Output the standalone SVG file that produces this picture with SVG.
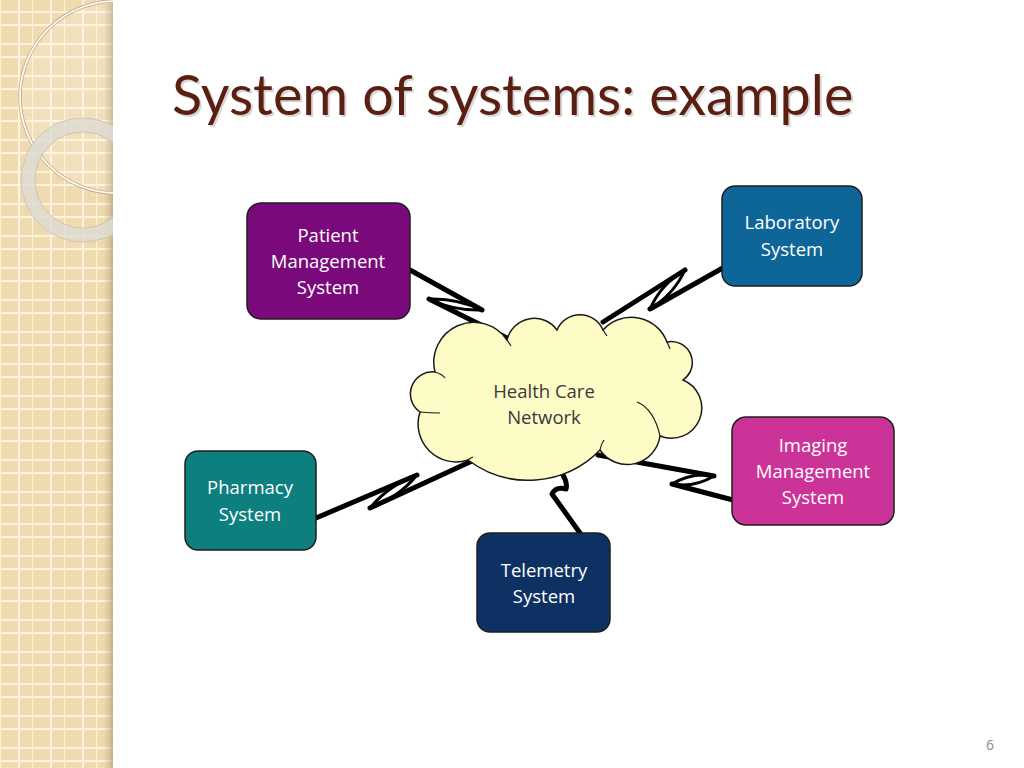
<svg xmlns="http://www.w3.org/2000/svg" width="1024" height="768" viewBox="0 0 1024 768">
<defs>
<style>
.node rect{stroke:#1e1e1e;stroke-width:1.5}
.lbl{font-family:"Open Sans","Noto Sans",sans-serif;font-size:18.5px;fill:#ffffff;text-anchor:middle}
.cl{font-family:"Open Sans","Noto Sans",sans-serif;font-size:18.5px;fill:#3a3a3a;text-anchor:middle}
.wire{fill:none;stroke:#000;stroke-width:5;stroke-linecap:round;stroke-linejoin:round}
.lens{fill:none;stroke:#000;stroke-width:3;stroke-linecap:round;stroke-linejoin:round}
.title{font-family:"Lato","Open Sans",sans-serif;font-size:55.7px}
</style>
<pattern id="grid" width="32" height="32" patternUnits="userSpaceOnUse">
<rect width="32" height="32" fill="#f1dcb2"/>
<path d="M6 0V32M26 0V32M0 6H32M0 19H32" stroke="#ecd6ab" stroke-width="1"/>
<path d="M0 0V32M19 0V32M0 12H32M0 25H32" stroke="#fcf3dc" stroke-width="2"/>
</pattern>
<linearGradient id="edge" x1="0" x2="1" y1="0" y2="0">
<stop offset="0" stop-color="#b8a27a" stop-opacity="0"/>
<stop offset="1" stop-color="#9c8866" stop-opacity="0.55"/>
</linearGradient>
<clipPath id="strip"><rect x="0" y="0" width="113" height="768"/></clipPath>
</defs>
<rect width="1024" height="768" fill="#ffffff"/>
<g id="sidebar" clip-path="url(#strip)">
<rect x="0" y="0" width="113" height="768" fill="url(#grid)"/>
<rect x="103" y="0" width="10" height="768" fill="url(#edge)"/>
<circle cx="116" cy="97" r="96" fill="#ffffff" fill-opacity="0.15"/>
<circle cx="116" cy="97" r="96" fill="none" stroke="#bfae8c" stroke-width="3.5"/>
<circle cx="116" cy="97" r="96" fill="none" stroke="#fffaf0" stroke-width="1.8"/>
<circle cx="83" cy="180" r="55" fill="none" stroke="#dedbd2" stroke-width="14" stroke-opacity="0.85"/>
<circle cx="83" cy="180" r="62" fill="none" stroke="#c8bfae" stroke-width="0.8"/>
<circle cx="83" cy="180" r="48" fill="none" stroke="#c8bfae" stroke-width="0.8"/>
</g>
<g id="title">
<text x="174" y="117" class="title" fill="#000" fill-opacity="0.16">System of systems: example</text>
<text x="172" y="115" class="title" fill="#5a1f10">System of systems: example</text>
</g>
<g id="connectors">
<path class="wire" d="M410 270L482 310M429 299L507 338"/>
<path class="lens" d="M482 310Q457 298 429 299Q454 311 482 310Z"/>
<path class="wire" d="M728 265L650 309M685 270L603 322"/>
<path class="lens" d="M650 309Q674 294 685 270Q661 284 650 309Z"/>
<path class="wire" d="M316 518L417 475M370 508L472 461"/>
<path class="lens" d="M417 475Q398 498 370 508Q389 485 417 475Z"/>
<path class="wire" d="M733 500L672 484M714 476L598 455"/>
<path class="lens" d="M672 484Q694 488 714 476Q692 472 672 484Z"/>
<path class="wire" d="M580 533L552 494Q556 486 566 489Q568 482 561 472"/>
</g>
<g id="cloud">
<path d="M420 412A22 22 0 0 1 435 372A40 40 0 0 1 507 340A28 28 0 0 1 557 330A25 25 0 0 1 603 330A38 38 0 0 1 667 342A21 21 0 0 1 683 380A30 30 0 0 1 660 436A33 33 0 0 1 600 450A100 100 0 0 1 468 460A38 38 0 0 1 420 412Z" fill="#fdfbc6" stroke="#1a1a1a" stroke-width="1.5"/>
<path d="M435 372Q442 374 445 378M507 340Q509 343 511 346M603 330Q605 333 607 336M667 342Q669 346 670 349M683 380Q688 376 690 372M637 402Q654 409 660 436M600 450Q601 444 604 440M468 460Q470 458 473 457M420 412Q430 413 440 413" fill="none" stroke="#1a1a1a" stroke-width="1.2"/>
<text x="544" y="398" class="cl">Health Care</text>
<text x="544" y="424" class="cl">Network</text>
</g>
<g id="patient" class="node">
<rect x="247" y="203" width="163" height="116" rx="14" fill="#7a0a7c"/>
<text x="328" y="242" class="lbl">Patient</text>
<text x="328" y="268" class="lbl">Management</text>
<text x="328" y="294" class="lbl">System</text>
</g>
<g id="laboratory" class="node">
<rect x="722" y="186" width="140" height="100" rx="13" fill="#0e6598"/>
<text x="792" y="229" class="lbl">Laboratory</text>
<text x="792" y="256" class="lbl">System</text>
</g>
<g id="imaging" class="node">
<rect x="732" y="417" width="162" height="108" rx="14" fill="#cc3399"/>
<text x="813" y="452" class="lbl">Imaging</text>
<text x="813" y="478" class="lbl">Management</text>
<text x="813" y="504" class="lbl">System</text>
</g>
<g id="pharmacy" class="node">
<rect x="185" y="451" width="131" height="99" rx="13" fill="#0e7f7f"/>
<text x="250" y="494" class="lbl">Pharmacy</text>
<text x="250" y="521" class="lbl">System</text>
</g>
<g id="telemetry" class="node">
<rect x="477" y="533" width="133" height="99" rx="13" fill="#0d3163"/>
<text x="544" y="577" class="lbl">Telemetry</text>
<text x="544" y="603" class="lbl">System</text>
</g>
<text x="990" y="750" font-family="Open Sans, sans-serif" font-size="14" fill="#8a8a8a" text-anchor="middle">6</text>
</svg>
